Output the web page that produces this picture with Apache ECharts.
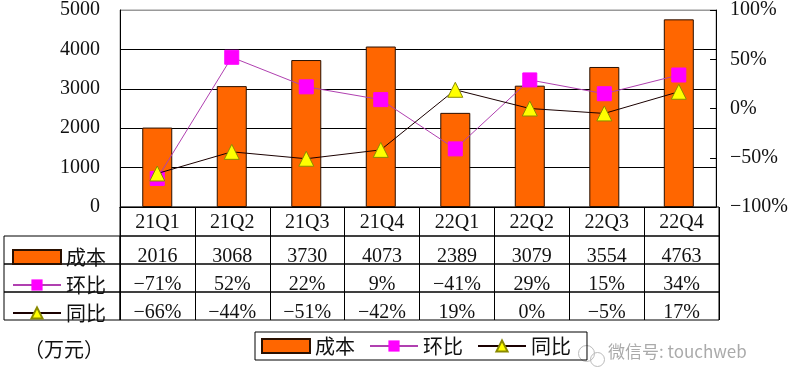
<!DOCTYPE html>
<html><head><meta charset="utf-8">
<script src="https://cdn.jsdelivr.net/npm/echarts@6/dist/echarts.min.js"></script>
<style>html,body{margin:0;padding:0;background:#fff}#c{width:791px;height:388px}</style>
</head><body><div id="c"></div>
<script>
const categories = ['21Q1','21Q2','21Q3','21Q4','22Q1','22Q2','22Q3','22Q4'];
const cost = [2016, 3068, 3730, 4073, 2389, 3079, 3554, 4763];
const qoq = [-71, 52, 22, 9, -41, 29, 15, 34];
const yoy = [-66, -44, -51, -42, 19, 0, -5, 17];
const seriesNames = ['成本', '环比', '同比'];

const FF = "'Liberation Serif', 'Noto Sans CJK SC', serif";
const CJK = "'Noto Sans CJK SC', sans-serif";
const pct = v => (v < 0 ? '\u2212' + (-v) : '' + v) + '%';

const PL = 120, PW = 599;
const rowTops = [236, 264, 292], RH = 28;

const chart = echarts.init(document.getElementById('c'));

const grids = [
  {left: PL, top: 10, width: PW, height: 197, show: true, borderColor: '#999', borderWidth: 1},
  {left: PL, top: 207, width: PW, height: 29, show: true, borderColor: '#000', borderWidth: 1}
];
rowTops.forEach(t => grids.push({left: PL, top: t, width: PW, height: RH, show: true, borderColor: '#000', borderWidth: 1}));
rowTops.forEach(t => grids.push({left: 4, top: t, width: 116, height: RH, show: true, borderColor: '#000', borderWidth: 1}));

const rowFormatters = [
  (v, i) => categories[i],
  (v, i) => '' + cost[i],
  (v, i) => pct(qoq[i]),
  (v, i) => pct(yoy[i])
];
const rowMargins = [-13, -7, -7, -7];

const xAxes = [{
  type: 'category', gridIndex: 0, data: categories,
  axisLine: {show: true, lineStyle: {color: '#000', width: 1}},
  axisTick: {show: false}, axisLabel: {show: false}
}];
for (let r = 0; r < 4; r++) {
  xAxes.push({
    type: 'category', gridIndex: r + 1, data: categories,
    axisLine: {show: false}, axisTick: {show: false},
    splitLine: {show: true, interval: 0, lineStyle: {color: '#000', width: 1}},
    axisLabel: {interval: 0, margin: rowMargins[r], verticalAlign: 'middle',
      formatter: rowFormatters[r], fontFamily: FF, fontSize: 20, color: '#111'}
  });
}
for (let r = 0; r < 3; r++) {
  xAxes.push({type: 'category', gridIndex: r + 5, data: [''], show: false});
}

const yAxes = [
  {type: 'value', gridIndex: 0, min: 0, max: 5000, interval: 1000, position: 'left',
   axisLine: {show: true, lineStyle: {color: '#000'}}, axisTick: {show: false},
   splitLine: {show: true, lineStyle: {color: ['#000','#000','#000','#000','#000','#999'], width: 1}},
   axisLabel: {margin: 20, fontFamily: FF, fontSize: 20, color: '#111', formatter: v => '' + v}},
  {type: 'value', gridIndex: 0, min: -100, max: 100, interval: 50, position: 'right',
   axisLine: {show: true, lineStyle: {color: '#000'}},
   axisTick: {show: true, inside: true, length: 6, lineStyle: {color: '#000'}},
   splitLine: {show: false},
   axisLabel: {margin: 14, fontFamily: FF, fontSize: 20, color: '#111', formatter: v => pct(v)}}
];
for (let g = 1; g < 8; g++) yAxes.push({type: 'value', gridIndex: g, show: false});

const legendCommon = {
  orient: 'horizontal', itemWidth: 48, itemHeight: 14, selectedMode: false,
  textStyle: {fontFamily: CJK, fontSize: 20, color: '#111'}
};
const legendTops = [247, 275, 303];
const legends = seriesNames.map((n, i) => Object.assign({}, legendCommon, {
  left: 12, top: legendTops[i], padding: 0,
  data: [i === 0 ? {name: n, icon: 'rect'} : n]
}));
legends.push(Object.assign({}, legendCommon, {
  left: 255, top: 332, padding: [4, 16, 4, 6], itemGap: 14,
  borderColor: '#000', borderWidth: 1,
  data: [{name: seriesNames[0], icon: 'rect'}, seriesNames[1], seriesNames[2]]
}));

chart.setOption({
  animation: false,
  backgroundColor: '#fff',
  title: [
    {text: '（万元）', left: 24, top: 339, padding: 0,
     textStyle: {fontFamily: CJK, fontSize: 20, fontWeight: 'normal', color: '#111'}},
    {text: '微信号: touchweb', left: 608, top: 343, padding: 0,
     textStyle: {fontFamily: CJK, fontSize: 17, fontWeight: 'normal', color: '#aaa'}}
  ],
  graphic: [
    {type: 'circle', left: 576, top: 343, shape: {r: 8}, style: {fill: 'none', stroke: '#bbb', lineWidth: 1}},
    {type: 'circle', left: 588, top: 350, shape: {r: 7}, style: {fill: 'none', stroke: '#bbb', lineWidth: 1}}
  ],
  grid: grids,
  xAxis: xAxes,
  yAxis: yAxes,
  legend: legends,
  series: [
    {name: seriesNames[0], type: 'bar', xAxisIndex: 0, yAxisIndex: 0, data: cost, barWidth: 30,
     itemStyle: {color: '#FF6600', borderColor: '#2a1000', borderWidth: 1}},
    {name: seriesNames[1], type: 'line', xAxisIndex: 0, yAxisIndex: 1, data: qoq,
     symbol: 'rect', symbolSize: 14, z: 3,
     lineStyle: {color: '#B040B0', width: 1},
     itemStyle: {color: '#FF00FF', borderColor: '#FF00FF'}},
    {name: seriesNames[2], type: 'line', xAxisIndex: 0, yAxisIndex: 1, data: yoy,
     symbol: 'triangle', symbolSize: 15, z: 4,
     lineStyle: {color: '#1a0000', width: 1},
     itemStyle: {color: '#FFFF00', borderColor: '#8a8a00', borderWidth: 1}}
  ]
});
</script></body></html>
